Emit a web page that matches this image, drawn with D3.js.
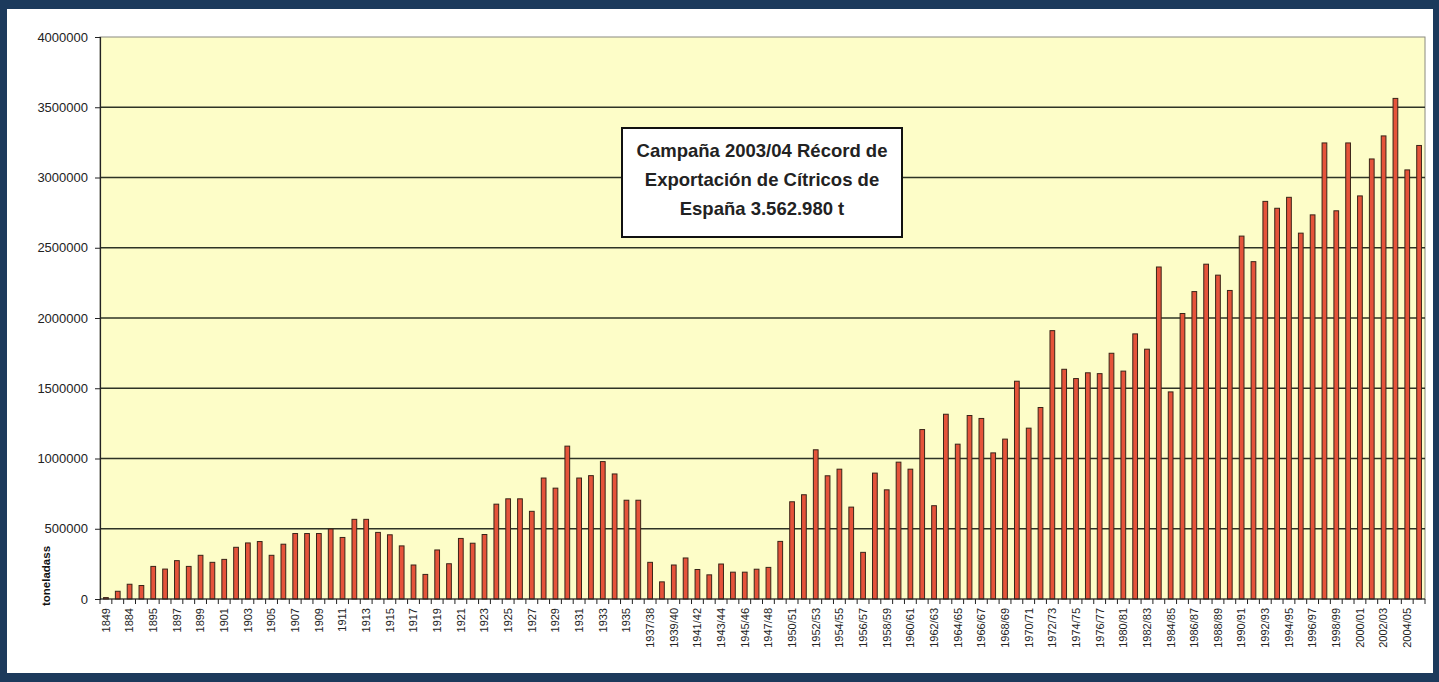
<!DOCTYPE html>
<html>
<head>
<meta charset="utf-8">
<script src="https://cdn.jsdelivr.net/npm/d3@7"></script>
<style>
  html, body { margin: 0; padding: 0; background: #1c3a5c; }
  svg { display: block; }
</style>
</head>
<body>
<svg id="chart" width="1439" height="682"></svg>
<script>
const categories = [
  "1849","1870","1884","1890",
  "1895","1896","1897","1898","1899","1900","1901","1902","1903","1904","1905","1906","1907","1908","1909","1910",
  "1911","1912","1913","1914","1915","1916","1917","1918","1919","1920","1921","1922","1923","1924","1925","1926",
  "1927","1928","1929","1930","1931","1932","1933","1934","1935","1936",
  "1937/38","1938/39","1939/40","1940/41","1941/42","1942/43","1943/44","1944/45","1945/46","1946/47","1947/48",
  "1948/49",
  "1950/51","1951/52","1952/53","1953/54","1954/55","1955/56","1956/57","1957/58","1958/59","1959/60","1960/61",
  "1961/62","1962/63","1963/64","1964/65","1965/66","1966/67","1967/68","1968/69","1969/70","1970/71","1971/72",
  "1972/73","1973/74","1974/75","1975/76","1976/77",
  "1977/78",
  "1980/81","1981/82","1982/83","1983/84","1984/85","1985/86","1986/87","1987/88","1988/89","1989/90","1990/91",
  "1991/92","1992/93","1993/94","1994/95","1995/96","1996/97","1997/98","1998/99","1999/00","2000/01","2001/02",
  "2002/03","2003/04","2004/05","2005/06"
];

const toneladas = [
  10000, 55000, 105000, 96000,
  232000, 213000, 273000, 232000, 311000, 261000, 282000, 368000, 399000, 409000, 311000, 390000, 466000, 466000, 466000, 498000,
  438000, 567000, 567000, 474000, 457000, 378000, 242000, 175000, 349000, 251000, 431000, 397000, 459000, 675000, 713000, 713000,
  624000, 861000, 789000, 1088000, 861000, 878000, 978000, 890000, 703000, 703000,
  261000, 122000, 242000, 292000, 210000, 172000, 249000, 191000, 191000, 212000, 225000,
  410000,
  692000, 742000, 1062000, 877000, 924000, 654000, 332000, 896000, 777000, 974000, 924000,
  1206000, 664000, 1315000, 1102000, 1306000, 1285000, 1040000, 1138000, 1550000, 1216000, 1363000,
  1910000, 1635000, 1569000, 1610000, 1604000,
  1749000,
  1622000, 1887000, 1778000, 2363000, 1474000, 2032000, 2188000, 2383000, 2305000, 2196000, 2583000,
  2401000, 2830000, 2781000, 2859000, 2604000, 2734000, 3246000, 2763000, 3246000, 2869000, 3132000,
  3296000, 3562980, 3054000, 3228000
];

const yTicks = [0, 500000, 1000000, 1500000, 2000000, 2500000, 3000000, 3500000, 4000000];
const yTitle = "toneladass";
const noteLines = ["Campaña 2003/04 Récord de", "Exportación de Cítricos de", "España 3.562.980 t"];

const W = 1439, H = 682;
const plot = { left: 100, right: 1425, top: 37, bottom: 599 };

const svg = d3.select("#chart");

// outer frame
svg.append("rect").attr("x", 0).attr("y", 0).attr("width", W).attr("height", H).attr("fill", "#1c3a5c");
svg.append("rect").attr("x", 7).attr("y", 9).attr("width", 1426).attr("height", 664).attr("fill", "#ffffff");

const x = d3.scaleBand()
  .domain(categories)
  .range([plot.left, plot.right])
  .paddingInner(0.6)
  .paddingOuter(0.3);

const y = d3.scaleLinear()
  .domain([0, 4000000])
  .range([plot.bottom, plot.top]);

// plot background
svg.append("rect")
  .attr("x", plot.left).attr("y", plot.top)
  .attr("width", plot.right - plot.left).attr("height", plot.bottom - plot.top)
  .attr("fill", "#fdfdc8")
  .attr("stroke", "#8a8a80").attr("stroke-width", 1);

// gridlines
svg.append("g")
  .selectAll("line")
  .data(yTicks.filter(d => d > 0 && d < 4000000))
  .join("line")
  .attr("x1", plot.left).attr("x2", plot.right)
  .attr("y1", d => y(d)).attr("y2", d => y(d))
  .attr("stroke", "#2e3326").attr("stroke-width", 1.3);

// bars
svg.append("g")
  .selectAll("rect")
  .data(categories.map((c, i) => ({ c, v: toneladas[i] })))
  .join("rect")
  .attr("x", d => x(d.c))
  .attr("y", d => y(d.v))
  .attr("width", x.bandwidth())
  .attr("height", d => y(0) - y(d.v))
  .attr("fill", "#e5533a")
  .attr("stroke", "#3a2418")
  .attr("stroke-width", 1);

// y axis
const yAxis = svg.append("g")
  .attr("transform", `translate(${plot.left},0)`)
  .call(d3.axisLeft(y).tickValues(yTicks).tickFormat(d3.format("d")).tickSize(5).tickPadding(7));
yAxis.select(".domain").attr("stroke", "#222").attr("stroke-width", 1.2);
yAxis.selectAll(".tick line").attr("stroke", "#222");
yAxis.selectAll(".tick text")
  .attr("font-family", "'Liberation Sans', Arial, sans-serif")
  .attr("font-size", 13)
  .attr("fill", "#222");

// x axis (labels on every other category, ticks at category boundaries)
const step = x.step();
const xAxis = svg.append("g").attr("transform", `translate(0,${plot.bottom})`);
xAxis.append("line")
  .attr("x1", plot.left).attr("x2", plot.right)
  .attr("y1", 0).attr("y2", 0)
  .attr("stroke", "#222").attr("stroke-width", 1.2);
xAxis.selectAll("line.tk")
  .data(d3.range(categories.length + 1))
  .join("line")
  .attr("class", "tk")
  .attr("x1", i => plot.left + i * step).attr("x2", i => plot.left + i * step)
  .attr("y1", 0).attr("y2", 5)
  .attr("stroke", "#222");
xAxis.selectAll("text")
  .data(categories.filter((c, i) => i % 2 === 0))
  .join("text")
  .attr("transform", c => `translate(${x(c) + x.bandwidth() / 2},9) rotate(-90)`)
  .attr("text-anchor", "end")
  .attr("dy", "0.35em")
  .attr("font-family", "'Liberation Sans', Arial, sans-serif")
  .attr("font-size", 11)
  .attr("fill", "#222")
  .text(c => c);

// y title
svg.append("text")
  .attr("transform", "translate(46,576) rotate(-90)")
  .attr("text-anchor", "middle")
  .attr("dy", "0.35em")
  .attr("font-family", "'Liberation Sans', Arial, sans-serif")
  .attr("font-weight", "bold")
  .attr("font-size", 11.5)
  .attr("fill", "#111")
  .text(yTitle);

// annotation box
const note = svg.append("g");
note.append("rect")
  .attr("x", 622).attr("y", 128).attr("width", 280).attr("height", 109)
  .attr("fill", "#ffffff").attr("stroke", "#111").attr("stroke-width", 2);
note.selectAll("text")
  .data(noteLines)
  .join("text")
  .attr("x", 762)
  .attr("y", (d, i) => 157 + i * 29)
  .attr("text-anchor", "middle")
  .attr("font-family", "'Liberation Sans', Arial, sans-serif")
  .attr("font-weight", "bold")
  .attr("font-size", 18.5)
  .attr("fill", "#222")
  .text(d => d);
</script>
</body>
</html>
